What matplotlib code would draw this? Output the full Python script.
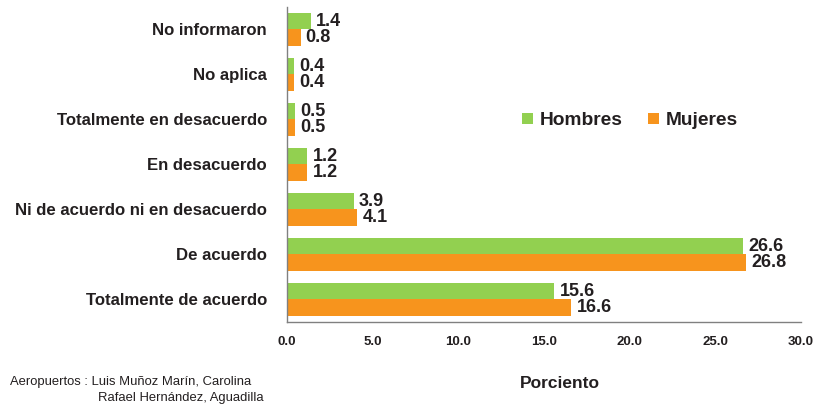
import matplotlib
matplotlib.use("Agg")
import matplotlib.pyplot as plt
import numpy as np

categories = ["No informaron", "No aplica", "Totalmente en desacuerdo", "En desacuerdo",
              "Ni de acuerdo ni en desacuerdo", "De acuerdo", "Totalmente de acuerdo"]
hombres = [1.4, 0.4, 0.5, 1.2, 3.9, 26.6, 15.6]
mujeres = [0.8, 0.4, 0.5, 1.2, 4.1, 26.8, 16.6]
xticks = [0, 5, 10, 15, 20, 25, 30]

GREEN = "#92D050"
ORANGE = "#F7941D"
TXT = "#231F20"
narrow = ["Liberation Sans Narrow", "Liberation Sans", "DejaVu Sans"]
wide = ["Liberation Sans", "DejaVu Sans"]

fig = plt.figure(figsize=(8.22, 4.08), dpi=100)
ax = fig.add_axes([0.349, 0.211, 0.6255, 0.772])

y = np.arange(len(categories))
h = 0.36
ax.barh(y - h/2, hombres, height=h, color=GREEN, label="Hombres")
ax.barh(y + h/2, mujeres, height=h, color=ORANGE, label="Mujeres")

for yi, v in zip(y, hombres):
    ax.text(v + 0.3, yi - h/2, f"{v:.1f}", va="center", ha="left", fontsize=13,
            fontweight="bold", color=TXT, family=narrow)
for yi, v in zip(y, mujeres):
    ax.text(v + 0.3, yi + h/2, f"{v:.1f}", va="center", ha="left", fontsize=13,
            fontweight="bold", color=TXT, family=narrow)

ax.set_ylim(6.5, -0.5)
ax.set_xlim(0, 30)
ax.set_yticks(y)
ax.set_yticklabels(categories, fontsize=12.1, fontweight="bold", color=TXT, family=wide)
ax.set_xticks(xticks)
ax.set_xticklabels([f"{t:.1f}" for t in xticks], fontsize=9.5, fontweight="bold", color=TXT, family=narrow)
ax.tick_params(axis="both", length=0)
ax.tick_params(axis="x", pad=10)
ax.tick_params(axis="y", pad=14.4)
for s in ["top", "right"]:
    ax.spines[s].set_visible(False)
for s in ["left", "bottom"]:
    ax.spines[s].set_color("#808080")
    ax.spines[s].set_linewidth(1.0)

leg = fig.legend(loc="center left", bbox_to_anchor=(0.635, 0.704), ncol=2, frameon=False,
                 handlelength=0.57, handleheight=0.57, columnspacing=1.3, handletextpad=0.36,
                 borderpad=0, borderaxespad=0,
                 prop={"family": wide, "weight": "bold", "size": 13.8})
for t in leg.get_texts():
    t.set_color(TXT)

fig.text(0.681, 0.061, "Porciento", ha="center", va="center", fontsize=12.5,
         fontweight="bold", color=TXT, family=wide)
fig.text(0.012, 0.063, "Aeropuertos : Luis Muñoz Marín, Carolina", ha="left", va="center",
         fontsize=9.4, color=TXT, family=wide)
fig.text(0.1195, 0.024, "Rafael Hernández, Aguadilla", ha="left", va="center",
         fontsize=9.4, color=TXT, family=wide)

fig.savefig("out.png", dpi=100)
